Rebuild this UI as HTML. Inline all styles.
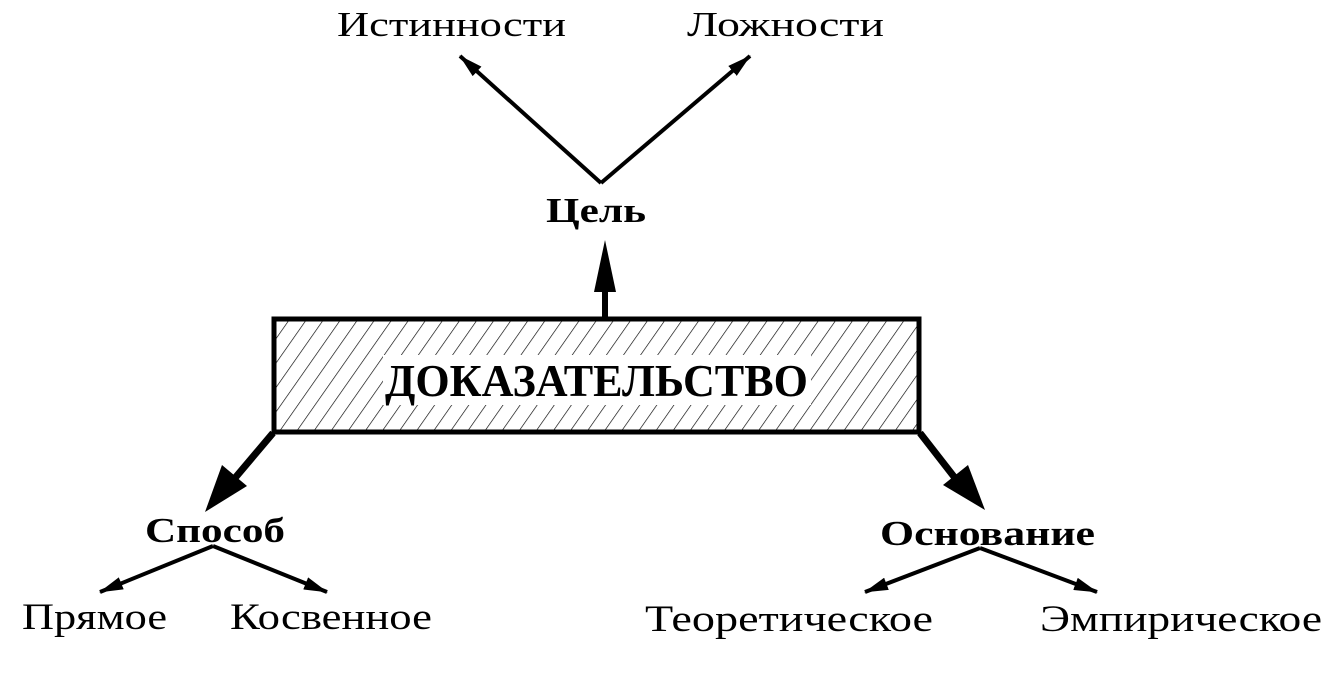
<!DOCTYPE html>
<html><head><meta charset="utf-8"><style>
html,body{margin:0;padding:0;background:#fff;width:1331px;height:675px;overflow:hidden}
svg text{font-family:"Liberation Serif",serif;fill:#000}
</style></head><body>
<svg width="1331" height="675" viewBox="0 0 1331 675" xmlns="http://www.w3.org/2000/svg">
<defs>
<pattern id="h" width="14" height="14" patternUnits="userSpaceOnUse" patternTransform="rotate(35)">
<line x1="0" y1="0" x2="0" y2="14" stroke="#000" stroke-width="1.3"/>
</pattern>
<marker id="b" markerWidth="24" markerHeight="13" refX="23" refY="6.5" orient="auto" markerUnits="userSpaceOnUse"><path d="M0,0 L24,6.5 L0,13 z"/></marker>
</defs>
<text x="337" y="36" font-size="35" textLength="229" lengthAdjust="spacingAndGlyphs">Истинности</text>
<text x="687" y="36" font-size="35" textLength="197" lengthAdjust="spacingAndGlyphs">Ложности</text>
<line x1="601" y1="183" x2="460" y2="56" stroke="#000" stroke-width="4" marker-end="url(#b)"/>
<line x1="601" y1="183" x2="750" y2="56" stroke="#000" stroke-width="4" marker-end="url(#b)"/>
<text x="546" y="222" font-size="35" font-weight="bold" textLength="100" lengthAdjust="spacingAndGlyphs">Цель</text>
<line x1="605" y1="318" x2="605" y2="285" stroke="#000" stroke-width="6"/>
<path d="M605,240 L594,292 L616,292 z"/>
<rect x="274" y="319" width="645" height="113" fill="url(#h)" stroke="#000" stroke-width="5"/>
<rect x="383" y="355" width="428" height="50" fill="#fff"/>
<text x="385" y="396" font-size="46" font-weight="bold" textLength="423" lengthAdjust="spacingAndGlyphs">ДОКАЗАТЕЛЬСТВО</text>
<line x1="273" y1="433" x2="235" y2="478" stroke="#000" stroke-width="7"/>
<path d="M205,512 L222,465 L247,486 z"/>
<line x1="920" y1="433" x2="955" y2="478" stroke="#000" stroke-width="7"/>
<path d="M985,510 L943,485 L968,465 z"/>
<text x="145" y="542" font-size="35" font-weight="bold" textLength="140" lengthAdjust="spacingAndGlyphs">Способ</text>
<text x="880" y="545" font-size="35" font-weight="bold" textLength="215" lengthAdjust="spacingAndGlyphs">Основание</text>
<line x1="213" y1="546" x2="100" y2="592" stroke="#000" stroke-width="4" marker-end="url(#b)"/>
<line x1="213" y1="546" x2="327" y2="592" stroke="#000" stroke-width="4" marker-end="url(#b)"/>
<line x1="980" y1="548" x2="865" y2="592" stroke="#000" stroke-width="4" marker-end="url(#b)"/>
<line x1="980" y1="548" x2="1097" y2="592" stroke="#000" stroke-width="4" marker-end="url(#b)"/>
<text x="22" y="629" font-size="37" textLength="145" lengthAdjust="spacingAndGlyphs">Прямое</text>
<text x="230" y="629" font-size="37" textLength="202" lengthAdjust="spacingAndGlyphs">Косвенное</text>
<text x="645" y="631" font-size="37" textLength="288" lengthAdjust="spacingAndGlyphs">Теоретическое</text>
<text x="1040" y="631" font-size="37" textLength="282" lengthAdjust="spacingAndGlyphs">Эмпирическое</text>
</svg>
</body></html>
